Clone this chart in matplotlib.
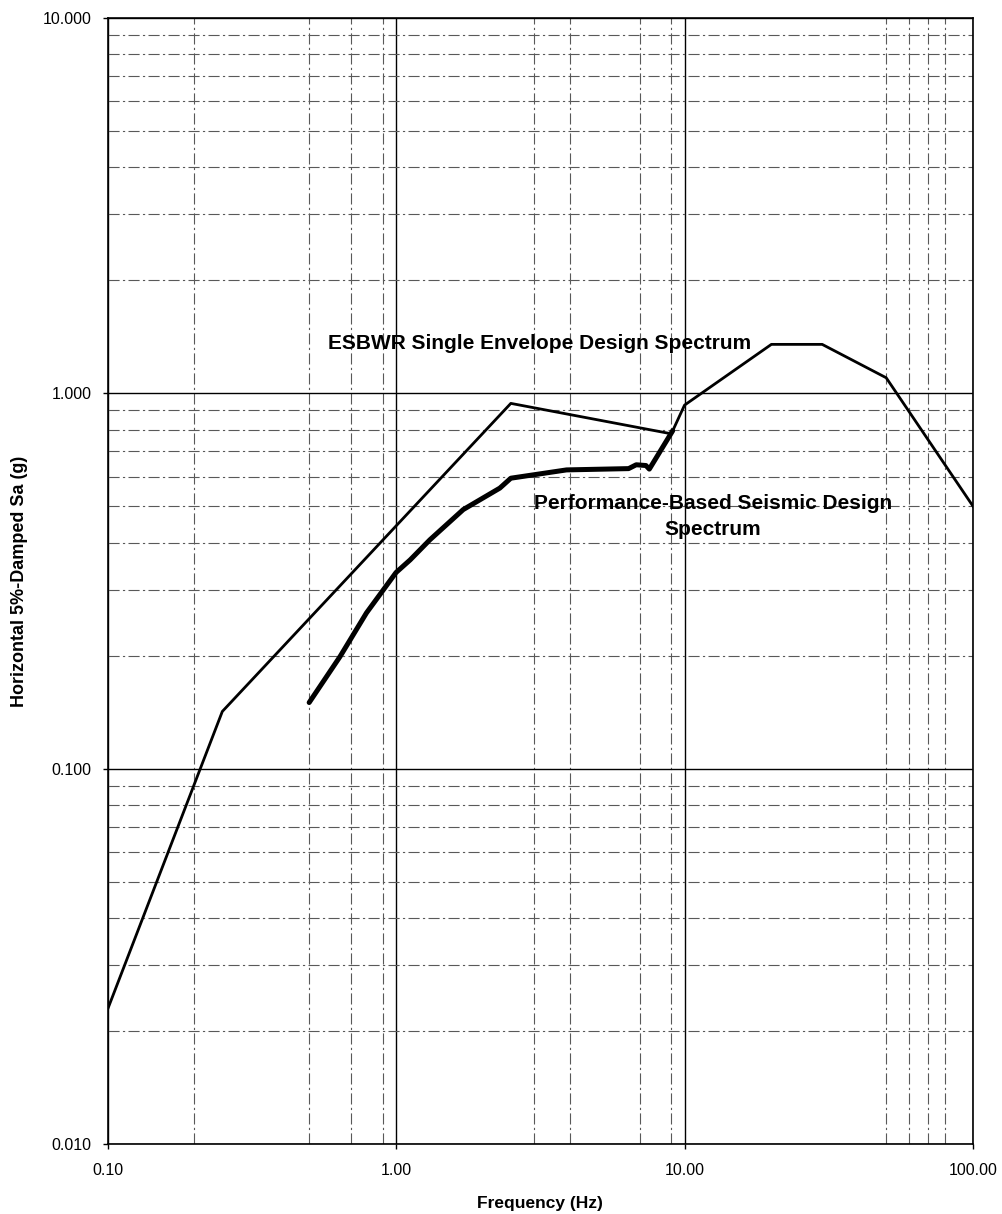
import matplotlib
matplotlib.use("Agg")
import matplotlib.pyplot as plt
from matplotlib.ticker import FixedLocator, FixedFormatter, LogLocator, NullFormatter

plt.rcParams["font.family"] = ["Liberation Sans", "DejaVu Sans"]

# --------------------------------------------------------
# Spectra (Hz, g)
# --------------------------------------------------------
esbwr_freq = [0.1, 0.25, 2.5, 9.0, 10.0, 20.0, 30.0, 50.0, 100.0]
esbwr_sa = [0.0228, 0.142, 0.94, 0.78, 0.93, 1.35, 1.35, 1.10, 0.50]

perf_freq = [0.5, 0.64, 0.79, 1.0, 1.12, 1.31, 1.71, 2.29, 2.5, 3.9, 6.4, 6.8, 7.35, 7.55, 9.1]
perf_sa = [0.15, 0.199, 0.26, 0.333, 0.36, 0.407, 0.49, 0.559, 0.594, 0.625, 0.630, 0.645, 0.642, 0.628, 0.795]

x_ticks = [0.1, 1.0, 10.0, 100.0]
x_labels = ["0.10", "1.00", "10.00", "100.00"]
y_ticks = [0.01, 0.1, 1.0, 10.0]
y_labels = ["0.010", "0.100", "1.000", "10.000"]

# only some of the minor vertical gridlines survive in the scan
x_minor_grid = [0.2, 0.5, 0.7, 0.9, 3, 4, 7, 9, 50, 60, 70, 80]

# --------------------------------------------------------
# Figure
# --------------------------------------------------------
fig = plt.figure(figsize=(10.02, 12.14), dpi=100)
ax = fig.add_axes([0.1073, 0.0577, 0.8638, 0.9275])
ax.set_xscale("log")
ax.set_yscale("log")
ax.set_xlim(0.1, 100)
ax.set_ylim(0.01, 10)

ax.xaxis.set_major_locator(FixedLocator(x_ticks))
ax.xaxis.set_major_formatter(FixedFormatter(x_labels))
ax.xaxis.set_minor_locator(FixedLocator(x_minor_grid))
ax.xaxis.set_minor_formatter(NullFormatter())
ax.yaxis.set_major_locator(FixedLocator(y_ticks))
ax.yaxis.set_major_formatter(FixedFormatter(y_labels))
ax.yaxis.set_minor_locator(LogLocator(base=10, subs=range(2, 10)))
ax.yaxis.set_minor_formatter(NullFormatter())

ax.grid(which="major", color="black", linewidth=1.0, linestyle="-")
ax.grid(which="minor", color="0.35", linewidth=0.8, linestyle=(0, (10, 3, 2, 3)))
ax.set_axisbelow(True)

ax.tick_params(which="major", direction="out", length=3.5, width=1.0, labelsize=11.5, colors="black")
ax.tick_params(axis="x", which="major", pad=10)
ax.tick_params(axis="y", which="major", pad=8)
ax.tick_params(which="minor", length=0)
for s in ax.spines.values():
    s.set_linewidth(1.2)
    s.set_color("black")

ax.plot(esbwr_freq, esbwr_sa, color="black", linewidth=2.0, solid_joinstyle="round")
ax.plot(perf_freq, perf_sa, color="black", linewidth=3.6, solid_joinstyle="round",
        solid_capstyle="round")

ax.text(3.15, 1.354, "ESBWR Single Envelope Design Spectrum", ha="center", va="center",
        fontsize=15, fontweight="bold")
ax.text(12.56, 0.469, "Performance-Based Seismic Design\nSpectrum", ha="center", va="center",
        fontsize=15, fontweight="bold", linespacing=1.45)

fig.text(0.019, 0.5215, "Horizontal 5%-Damped Sa (g)", rotation=90, ha="center", va="center",
         fontsize=13, fontweight="bold")
fig.text(0.539, 0.009, "Frequency (Hz)", ha="center", va="center",
         fontsize=12.5, fontweight="bold")

fig.savefig("out.png", dpi=100)
